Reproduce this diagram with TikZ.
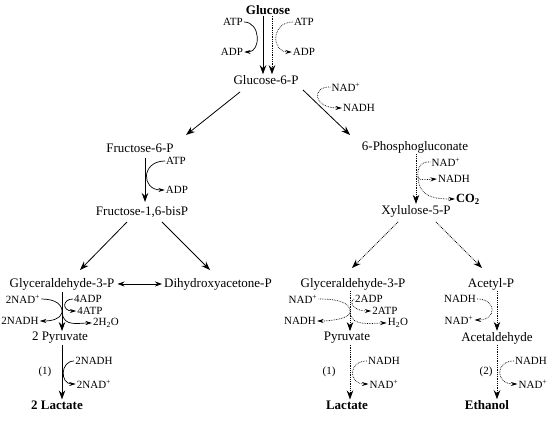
\documentclass[tikz,border=0pt]{standalone}
\usepackage{fontspec}
\setmainfont{Liberation Serif}
\usetikzlibrary{arrows.meta}
\begin{document}
\begin{tikzpicture}[x=1pt,y=-1pt,
 met/.style={font=\fontsize{13}{15}\selectfont, inner sep=1pt},
 metb/.style={font=\fontsize{13}{15}\selectfont\bfseries, inner sep=1pt},
 cof/.style={font=\fontsize{11}{13}\selectfont, inner sep=1pt},
 main/.style={line width=0.8pt, -{Stealth[length=9pt,width=6.5pt]}},
 side/.style={line width=0.7pt, -{Stealth[length=6.5pt,width=4pt]}},
 plain/.style={line width=0.7pt},
 dotln/.style={densely dotted}]
\useasboundingbox (0,0) rectangle (550,427);
% nodes
\node[metb] (glc) at (268,10) {Glucose};
\node[cof] (atp1) at (233,22) {ATP};
\node[cof] (adp1) at (232,52) {ADP};
\node[cof] (atp2) at (304,22) {ATP};
\node[cof] (adp2) at (304,52) {ADP};
\node[met] (g6p) at (266,80) {Glucose-6-P};
\node[met] (f6p) at (140,148) {Fructose-6-P};
\node[cof] (atp3) at (176,161) {ATP};
\node[cof] (adp3) at (177,190) {ADP};
\node[met] (fbp) at (142,212) {Fructose-1,6-bisP};
\node[met] (gap1) at (62,284) {Glyceraldehyde-3-P};
\node[met] (dhap) at (218,284) {Dihydroxyacetone-P};
\node[cof] (nad1) at (23,299) {2NAD\textsuperscript{+}};
\node[cof] (adp4) at (88,299) {4ADP};
\node[cof] (atp4) at (90,311) {4ATP};
\node[cof] (nadh1) at (20,321) {2NADH};
\node[cof] (h2o1) at (106,323) {2H\textsubscript{2}O};
\node[met] (pyr1) at (60,338) {2 Pyruvate};
\node[cof] (nadh2) at (94,361) {2NADH};
\node[cof] (n1) at (45,372) {(1)};
\node[cof] (nad2) at (94,384) {2NAD\textsuperscript{+}};
\node[metb] (lac1) at (57,405) {2 Lactate};
\node[cof] (nad3) at (346,87) {NAD\textsuperscript{+}};
\node[cof] (nadh3) at (359,108) {NADH};
\node[met] (pg6) at (415,147) {6-Phosphogluconate};
\node[cof] (nad4) at (446,162) {NAD\textsuperscript{+}};
\node[cof] (nadh4) at (454,179) {NADH};
\node[cof,font=\fontsize{12.5}{14}\selectfont\bfseries] (co2) at (468,199) {CO\textsubscript{2}};
\node[met] (xu5p) at (416,211) {Xylulose-5-P};
\node[met] (gap2) at (353,284) {Glyceraldehyde-3-P};
\node[met] (acp) at (491,284) {Acetyl-P};
\node[cof] (nad5) at (303,299) {NAD\textsuperscript{+}};
\node[cof] (adp5) at (369,299) {2ADP};
\node[cof] (atp5) at (385,311) {2ATP};
\node[cof] (nadh5) at (300,321) {NADH};
\node[cof] (h2o2) at (398,323) {H\textsubscript{2}O};
\node[met] (pyr2) at (347,338) {Pyruvate};
\node[cof] (nadh6) at (384,361) {NADH};
\node[cof] (n2) at (329,372) {(1)};
\node[cof] (nad6) at (384,384) {NAD\textsuperscript{+}};
\node[metb] (lac2) at (347,405) {Lactate};
\node[cof] (nadh7) at (460,299) {NADH};
\node[cof] (nad7) at (459,320) {NAD\textsuperscript{+}};
\node[met] (acald) at (497,338) {Acetaldehyde};
\node[cof] (n3) at (486,372) {(2)};
\node[cof] (nadh8) at (531,361) {NADH};
\node[cof] (nad8) at (533,384) {NAD\textsuperscript{+}};
\node[metb] (etoh) at (487,405) {Ethanol};
% glucose -> g6p
\draw[main] ([xshift=-5pt]glc.south) -- ([xshift=-3pt]g6p.north);
\draw[main,dotln] ([xshift=4pt]glc.south) -- ([xshift=6pt]g6p.north);
\draw[side] (atp1.east) .. controls (261,22) and (261,52) .. (adp1.east);
\draw[side,dotln] (atp2.west) .. controls (271,22) and (271,52) .. (adp2.west);
% branches from g6p
\draw[main] ([shift={(-26,12)}]g6p.center) -- ([shift={(46,-13)}]f6p.center);
\draw[main] ([shift={(37,10)}]g6p.center) -- ([shift={(-65,-12)}]pg6.center);
\draw[side,dotln] (nad3.west) .. controls (312,86) and (312,108) .. (nadh3.west);
% f6p -> fbp
\draw[main] ([shift={(5,10)}]f6p.center) -- ([shift={(3,-10)}]fbp.center);
\draw[side] (atp3.west) .. controls (141,161) and (141,190) .. (adp3.west);
\draw[main] ([shift={(-15,10)}]fbp.center) -- ([shift={(18,-14)}]gap1.center);
\draw[main] ([shift={(20,10)}]fbp.center) -- ([shift={(-8,-14)}]dhap.center);
\draw[line width=0.8pt,{Stealth[length=7pt,width=5pt]}-{Stealth[length=7pt,width=5pt]}] ([xshift=2pt]gap1.east) -- ([xshift=-1pt]dhap.west);
% left lower
\draw[main] ([yshift=-1pt]gap1.south) -- ([xshift=2pt]pyr1.north);
\coordinate (j1) at (62,313);
\draw[plain] (nad1.east) .. controls (56,299) and (63,305) .. (j1);
\draw[side] (j1) .. controls (60,319) and (52,321) .. (nadh1.east);
\draw[side] (j1) .. controls (64,327) and (78,323) .. (h2o1.west);
\draw[side] (adp4.west) .. controls (62,299) and (62,311) .. (atp4.west);
\draw[main] ([xshift=2pt]pyr1.south) -- ([xshift=5pt]lac1.north);
\draw[side] (nadh2.west) .. controls (60,361) and (60,384) .. (nad2.west);
% pentose phosphate
\draw[main,dotln] ([xshift=1pt]pg6.south) -- (xu5p.north);
\coordinate (j2) at (418,177);
\draw[plain,dotln] (nad4.west) .. controls (420,161) and (417,169) .. (j2);
\draw[side,dotln] (j2) .. controls (420,180) .. (nadh4.west);
\draw[side,dotln] (j2) .. controls (419,196) and (432,199) .. (co2.west);
\draw[main,dotln] ([shift={(-18,11)}]xu5p.center) -- ([shift={(-1,-16)}]gap2.center);
\draw[main,dotln] ([shift={(20,11)}]xu5p.center) -- ([shift={(-9,-16)}]acp.center);
% right-left
\draw[main,dotln] ([xshift=-3pt]gap2.south) -- ([xshift=3pt]pyr2.north);
\coordinate (j3) at (350,313);
\draw[plain,dotln] (nad5.east) .. controls (344,299) and (351,305) .. (j3);
\draw[side,dotln] (j3) .. controls (348,319) and (330,321) .. (nadh5.east);
\draw[side,dotln] (j3) .. controls (352,327) and (372,323) .. (h2o2.west);
\draw[side,dotln] (adp5.west) .. controls (350,299) and (350,311) .. (atp5.west);
\draw[main,dotln] ([xshift=3pt]pyr2.south) -- ([xshift=3pt]lac2.north);
\draw[side,dotln] (nadh6.west) .. controls (348,361) and (348,384) .. (nad6.west);
% right-right
\draw[main,dotln] ([xshift=6pt]acp.south) -- (acald.north);
\draw[side,dotln] (nadh7.east) .. controls (497,299) and (497,320) .. (nad7.east);
\draw[main,dotln] (acald.south) -- ([xshift=10pt]etoh.north);
\draw[side,dotln] (nadh8.west) .. controls (495,361) and (495,384) .. (nad8.west);
\end{tikzpicture}
\end{document}
